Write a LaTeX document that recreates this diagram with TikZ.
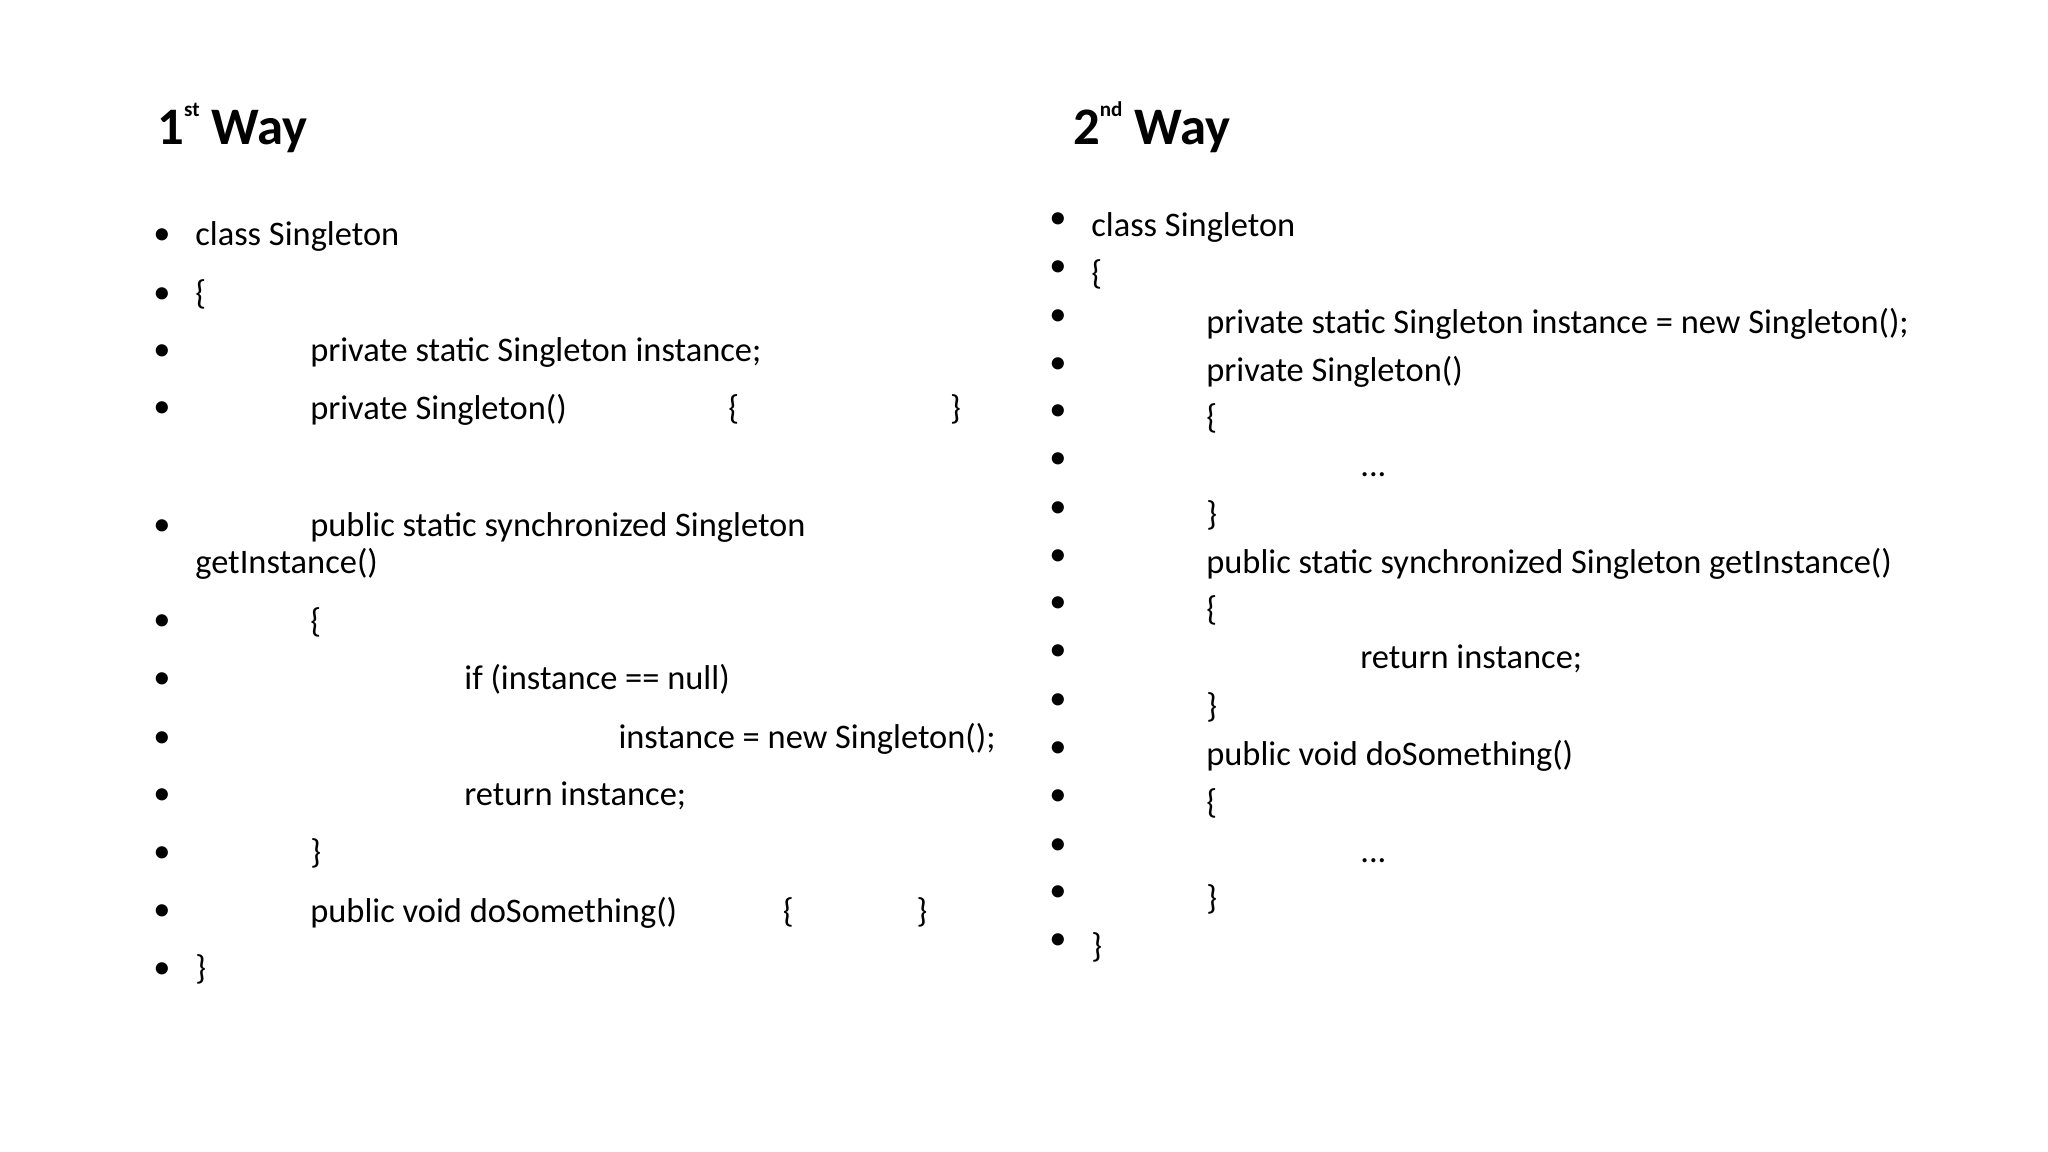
\documentclass[tikz,border=0pt]{standalone}
\usepackage{fontspec}
\setmainfont{Carlito}
\begin{document}
\begin{tikzpicture}[x=0.01306cm,y=-0.01306cm,
  code/.style={anchor=base west,inner sep=0pt,font=\fontsize{9.8pt}{11pt}\selectfont},
  ttl/.style={anchor=base west,inner sep=0pt,font=\fontsize{15pt}{17pt}\selectfont\bfseries},
  bul/.style={anchor=base,inner sep=0pt,font=\fontsize{9.8pt}{11pt}\selectfont}]
\useasboundingbox (0,0) rectangle (1568,882);
\node[ttl] (t1) at (120,111) {1\raisebox{1.1ex}{\fontsize{6pt}{6pt}\selectfont st} Way};
\node[ttl] (t2) at (821,111) {2\raisebox{1.1ex}{\fontsize{6pt}{6pt}\selectfont nd} Way};
% left
\foreach \y/\x/\t [count=\i] in {
 181/149/{class Singleton},
 226/149/{\{},
 270/237/{private static Singleton instance;},
 314/237/{private Singleton()\hspace{46pt}\{\hspace{60pt}\}},
 404/237/{public static synchronized Singleton},
 477/237/{\{},
 521/355/{if (instance == null)},
 566/473/{instance = new Singleton();},
 610/355/{return instance;},
 654/237/{\}},
 699/237/{public void doSomething()\hspace{30pt}\{\hspace{35pt}\}},
 743/149/{\}}}{
  \node[bul] (lb\i) at (124,\y+6) {•};
  \node[code] (l\i) at (\x,\y+7) {\t};
}
\node[code] (lg) at (149,439) {getInstance()};
% right
\foreach \y/\x/\t [count=\i] in {
 174/835/{class Singleton},
 211/835/{\{},
 248/923/{private static Singleton instance = new Singleton();},
 285/923/{private Singleton()},
 321/923/{\{},
 358/1041/{...},
 395/923/{\}},
 432/923/{public static synchronized Singleton getInstance()},
 468/923/{\{},
 505/1041/{return instance;},
 542/923/{\}},
 579/923/{public void doSomething()},
 616/923/{\{},
 653/1041/{...},
 689/923/{\}},
 726/835/{\}}}{
  \node[bul] (rb\i) at (810,\y+1) {•};
  \node[code] (r\i) at (\x,\y+7) {\t};
}
\end{tikzpicture}
\end{document}
